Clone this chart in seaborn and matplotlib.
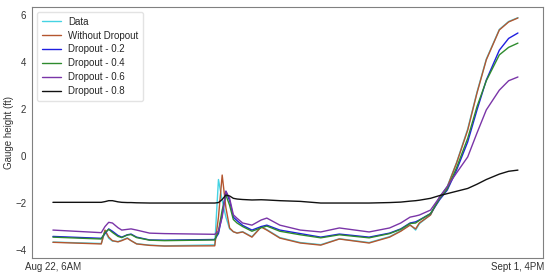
import matplotlib
matplotlib.use("Agg")
import matplotlib.pyplot as plt
import numpy as np
import seaborn as sns

# hours since Aug 22, 6AM
hours = [0, 26, 28, 30, 32, 35, 37, 40, 42, 45, 52, 60, 87, 89, 91, 93, 95, 97, 99,
         102, 107, 112, 115, 122, 133, 144, 154, 170, 181, 187, 192, 195, 197, 203,
         208, 212, 217, 223, 228, 233, 240, 245, 250]

data = [-3.66, -3.72, -3.2, -3.5, -3.62, -3.64, -3.58, -3.48, -3.6, -3.73, -3.79, -3.82,
        -3.78, -1.0, -1.9, -2.6, -3.1, -3.22, -3.27, -3.22, -3.43, -3.0, -3.13, -3.47,
        -3.68, -3.77, -3.52, -3.68, -3.43, -3.18, -2.92, -3.15, -2.88, -2.5, -1.72,
        -1.3, -0.28, 1.15, 2.72, 4.12, 5.38, 5.72, 5.88]
no_dropout = [-3.67, -3.74, -3.15, -3.45, -3.6, -3.65, -3.6, -3.5, -3.6, -3.74, -3.8, -3.83,
              -3.82, -2.6, -0.81, -2.2, -3.06, -3.22, -3.28, -3.23, -3.45, -3.02, -3.15, -3.49,
              -3.7, -3.79, -3.53, -3.7, -3.45, -3.2, -2.94, -3.1, -2.85, -2.51, -1.74,
              -1.32, -0.3, 1.1, 2.68, 4.09, 5.36, 5.7, 5.87]
drop_02 = [-3.42, -3.5, -3.3, -3.1, -3.2, -3.38, -3.45, -3.35, -3.32, -3.45, -3.57, -3.58,
           -3.55, -3.3, -2.5, -1.5, -1.9, -2.6, -2.75, -2.95, -3.15, -3.0, -2.94, -3.15,
           -3.3, -3.45, -3.32, -3.45, -3.28, -3.1, -2.85, -2.8, -2.72, -2.45, -1.85,
           -1.45, -0.6, 0.6, 1.96, 3.23, 4.5, 5.0, 5.23]
drop_04 = [-3.45, -3.53, -3.25, -3.12, -3.25, -3.42, -3.47, -3.36, -3.34, -3.47, -3.58, -3.6,
           -3.57, -3.2, -2.3, -1.66, -2.1, -2.7, -2.85, -3.0, -3.2, -3.05, -2.98, -3.2,
           -3.35, -3.48, -3.35, -3.48, -3.3, -3.12, -2.87, -2.85, -2.74, -2.45, -1.8,
           -1.4, -0.5, 0.75, 2.1, 3.2, 4.3, 4.62, 4.8]
drop_06 = [-3.15, -3.26, -3.0, -2.82, -2.85, -3.05, -3.15, -3.12, -3.1, -3.15, -3.28, -3.3,
           -3.33, -3.2, -2.6, -1.5, -1.8, -2.5, -2.65, -2.85, -2.94, -2.72, -2.64, -2.94,
           -3.15, -3.23, -3.06, -3.23, -3.06, -2.85, -2.6, -2.55, -2.51, -2.3, -1.74,
           -1.3, -0.72, -0.04, 0.98, 1.96, 2.8, 3.2, 3.36]
drop_08 = [-1.97, -1.97, -1.94, -1.9, -1.9, -1.95, -1.97, -1.98, -1.98, -1.99, -2.0, -2.0,
           -2.0, -1.98, -1.85, -1.66, -1.7, -1.8, -1.83, -1.85, -1.87, -1.86, -1.87, -1.9,
           -1.93, -2.0, -2.0, -2.0, -1.98, -1.96, -1.92, -1.9, -1.88, -1.8, -1.68,
           -1.6, -1.5, -1.38, -1.2, -1.0, -0.77, -0.65, -0.6]

series = [
    ("Data", data, "#45d3e3"),
    ("Without Dropout", no_dropout, "#b4562f"),
    ("Dropout - 0.2", drop_02, "#1f1fe0"),
    ("Dropout - 0.4", drop_04, "#2e8b2e"),
    ("Dropout - 0.6", drop_06, "#7a35a8"),
    ("Dropout - 0.8", drop_08, "#111111"),
]

sns.set_style("white")
plt.rcParams['font.family'] = ['Liberation Sans', 'DejaVu Sans']

fig, ax = plt.subplots(figsize=(5.5, 2.76), dpi=100)
fig.subplots_adjust(left=0.058, right=0.987, bottom=0.065, top=0.975)

for name, vals, col in series:
    sns.lineplot(x=hours, y=vals, color=col, label=name, linewidth=1.0, ax=ax)

ax.set_xlim(-11.3, 263.4)
ax.set_ylim(-4.34, 6.34)
ax.set_yticks([-4, -2, 0, 2, 4, 6])
ax.set_xticks([0, 250])
ax.set_xticklabels(["Aug 22, 6AM", "Sept 1, 4PM"])
ax.tick_params(labelsize=7, length=0, colors="#333333")
ax.tick_params(axis="y", pad=4)
ax.tick_params(axis="x", pad=3)
ax.set_ylabel("Gauge height (ft)", fontsize=7, color="#333333")
ax.yaxis.set_label_coords(-0.035, 0.5)
for sp in ax.spines.values():
    sp.set_color("#808080")
    sp.set_linewidth(0.8)

ax.legend(loc="upper left", fontsize=7, frameon=True, edgecolor="#dddddd",
          handlelength=2.0, handletextpad=0.7, labelspacing=0.4, borderpad=0.5)

plt.savefig("out.png", dpi=100)
